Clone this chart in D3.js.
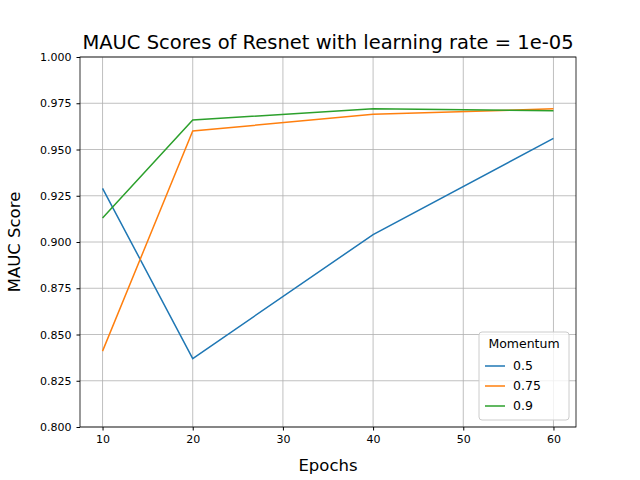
<!DOCTYPE html>
<html><head><meta charset="utf-8">
<script src="https://cdn.jsdelivr.net/npm/d3@7"></script>
<style>body{margin:0;background:#fff}text{font-family:"DejaVu Sans",sans-serif}</style>
</head><body><div id="chart"></div>
<script>
// chart data
var epochs = [10, 20, 40, 60]
var momentums = ["0.5", "0.75", "0.9"]
var scores05 = [0.929, 0.837, 0.904, 0.956]
var scores075 = [0.841, 0.960, 0.969, 0.972]
var scores09 = [0.913, 0.966, 0.972, 0.971]
var colors = ["#1f77b4", "#ff7f0e", "#2ca02c"]
var yTicks = [0.800, 0.825, 0.850, 0.875, 0.900, 0.925, 0.950, 0.975, 1.000]
var xTicks = [10, 20, 30, 40, 50, 60]

var margin = {top: 57, right: 64, bottom: 53, left: 80}
  , width = 640 - margin.left - margin.right
  , height = 480 - margin.top - margin.bottom;

var svg = d3.select("#chart").append("svg")
    .attr("width", 640).attr("height", 480)
  .append("g")
    .attr("transform", "translate(" + margin.left + "," + margin.top + ")");

var xScale = d3.scaleLinear().domain([7.5, 62.5]).range([0, width])
var yScale = d3.scaleLinear().domain([0.8, 1.0]).range([height, 0])

// grid
svg.append("g").selectAll("line").data(xTicks).join("line")
    .attr("x1", d => xScale(d)).attr("x2", d => xScale(d))
    .attr("y1", 0).attr("y2", height)
    .attr("stroke", "#b0b0b0").attr("stroke-width", 0.8)
svg.append("g").selectAll("line").data(yTicks).join("line")
    .attr("y1", d => yScale(d)).attr("y2", d => yScale(d))
    .attr("x1", 0).attr("x2", width)
    .attr("stroke", "#b0b0b0").attr("stroke-width", 0.8)

svg.append("g")
    .attr("transform", "translate(0," + height + ")")
    .call(d3.axisBottom(xScale).tickValues(xTicks).tickSize(3.5).tickPadding(5))
svg.append("g")
    .call(d3.axisLeft(yScale).tickValues(yTicks).tickFormat(d3.format(".3f")).tickSize(3.5).tickPadding(5))
svg.selectAll(".tick text").style("font-size", "11px").attr("fill", "#000")
svg.selectAll(".domain").remove()

svg.append("rect").attr("width", width).attr("height", height)
    .attr("fill", "none").attr("stroke", "#000").attr("stroke-width", 0.8)

var line = d3.line().x((d, i) => xScale(epochs[i])).y(d => yScale(d))
var series = [scores05, scores075, scores09]
series.forEach(function(s, i) {
  svg.append("path").datum(s).attr("d", line)
    .attr("fill", "none").attr("stroke", colors[i]).attr("stroke-width", 1.5)
})

svg.append("text").attr("x", width / 2).attr("y", -8)
    .attr("text-anchor", "middle").style("font-size", "19.5px")
    .text("MAUC Scores of Resnet with learning rate = 1e-05")
svg.append("text").attr("x", width / 2).attr("y", height + 44)
    .attr("text-anchor", "middle").style("font-size", "16.5px").text("Epochs")
svg.append("text").attr("transform", "rotate(-90)")
    .attr("x", -height / 2).attr("y", -60)
    .attr("text-anchor", "middle").style("font-size", "16.5px").text("MAUC Score")

// legend
var lg = svg.append("g").attr("transform", "translate(" + (479 - margin.left) + "," + (332 - margin.top) + ")")
lg.append("rect").attr("width", 90).attr("height", 88).attr("rx", 3)
    .attr("fill", "#fff").attr("fill-opacity", 0.8).attr("stroke", "#ccc")
lg.append("text").attr("x", 45).attr("y", 16).attr("text-anchor", "middle")
    .style("font-size", "12.5px").text("Momentum")
momentums.forEach(function(m, i) {
  var y = 34 + i * 20
  lg.append("line").attr("x1", 6).attr("x2", 26).attr("y1", y).attr("y2", y)
      .attr("stroke", colors[i]).attr("stroke-width", 1.5)
  lg.append("text").attr("x", 34).attr("y", y + 4).style("font-size", "12.5px").text(m)
})
</script></body></html>
